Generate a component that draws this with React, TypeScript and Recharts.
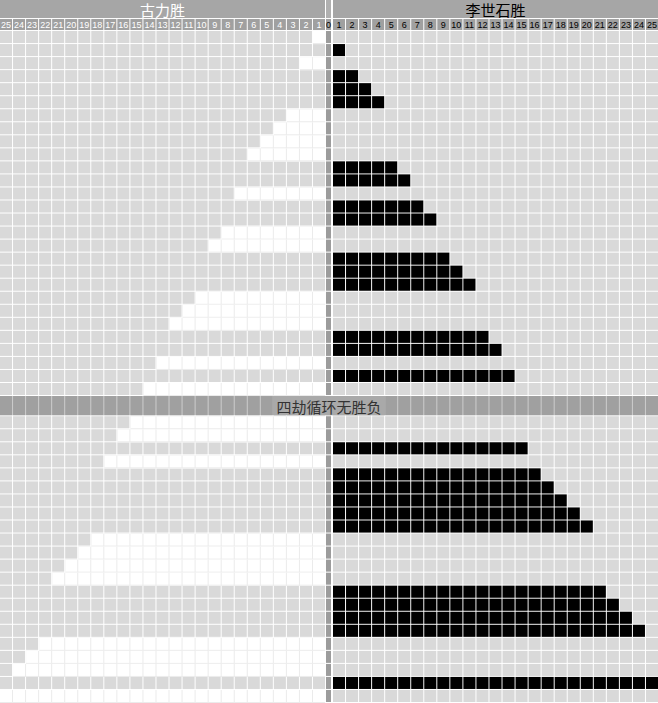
import React from "react";
import { ComposedChart, XAxis, YAxis, ReferenceArea } from "recharts";

const leftTitle = "古力胜";
const rightTitle = "李世石胜";
const bandTitle = "四劫循环无胜负";

// winner of each game, in order ("古" = 古力, "李" = 李世石)
const gamesBeforeBand = [
  "古", "李", "古", "李", "李", "李", "古", "古", "古", "古",
  "李", "李", "古", "李", "李", "古", "古", "李", "李", "李",
  "古", "古", "古", "李", "李", "古", "李", "古",
];
const gamesAfterBand = [
  "古", "古", "李", "古", "李", "李", "李", "李", "李", "古",
  "古", "古", "古", "李", "李", "李", "李", "古", "古", "古",
  "李", "古",
];

const leftTicks = [25, 24, 23, 22, 21, 20, 19, 18, 17, 16, 15, 14, 13, 12, 11, 10, 9, 8, 7, 6, 5, 4, 3, 2, 1];
const centerTick = 0;
const rightTicks = [1, 2, 3, 4, 5, 6, 7, 8, 9, 10, 11, 12, 13, 14, 15, 16, 17, 18, 19, 20, 21, 22, 23, 24, 25];

// layout (in cell units)
const MID = 0.46;
const TOP = -2.38;
const NUM_TOP = -0.92;
const BAND_H = 1.55;
const BAND_Y = gamesBeforeBand.length;
const END = gamesBeforeBand.length + BAND_H + gamesAfterBand.length;
const SIDE = leftTicks.length;

const BODY = "#d9d9d9";
const HEAD = "#a6a6a6";
const NUMS = "#a0a0a0";
const CENTER = "#9c9c9c";

type Row = { winner: string; count: number; y1: number; y2: number };

const rows: Row[] = [];
let gu = 0;
let lee = 0;
const addRow = (w: string, y1: number) => {
  if (w === "古") gu += 1;
  else lee += 1;
  rows.push({ winner: w, count: w === "古" ? gu : lee, y1, y2: y1 + 1 });
};
gamesBeforeBand.forEach((w, i) => addRow(w, i));
gamesAfterBand.forEach((w, j) => addRow(w, BAND_Y + BAND_H + j));

const cellShape = (n: number, side: "left" | "right", fill: string, gapFill?: string) => (p: any) => {
  const w = p.width / n;
  const out = [];
  for (let i = 0; i < n; i++) {
    out.push(
      <rect
        key={i}
        x={p.x + i * w + (side === "right" ? 1 : 0)}
        y={p.y}
        width={w - 1}
        height={p.height - 1}
        fill={fill}
      />
    );
  }
  return (
    <g>
      {gapFill && <rect x={p.x} y={p.y} width={p.width} height={p.height - 1} fill={gapFill} />}
      {out}
    </g>
  );
};

const guBar = (n: number) => (p: any) => {
  const w = p.width / n;
  const lines = [];
  for (let i = 1; i < n; i++) {
    lines.push(<rect key={i} x={p.x + i * w - 1} y={p.y} width={1} height={p.height} fill="#ebebeb" />);
  }
  return (
    <g>
      <rect x={p.x} y={p.y} width={p.width - 1} height={p.height} fill="#ffffff" />
      <rect x={p.x} y={p.y + p.height - 1} width={p.width - 1} height={1} fill="#ebebeb" />
      {lines}
    </g>
  );
};

const boxShape = (fill: string, side: "left" | "right" | "mid", text?: string, color?: string, size?: number, family?: string) => (p: any) => {
  const dx = side === "right" ? 1 : 0;
  return (
    <g>
      <rect x={p.x + dx} y={p.y} width={p.width - 1} height={p.height - 1} fill={fill} />
      {text !== undefined && (
        <text
          x={p.x + dx + (p.width - 1) / 2}
          y={p.y + (p.height - 1) / 2}
          textAnchor="middle"
          dominantBaseline="central"
          fill={color}
          fontSize={size}
          fontFamily={family}
        >
          {text}
        </text>
      )}
    </g>
  );
};

const bandLabel = (p: any) => {
  const cx = p.x + p.width / 2;
  return (
    <g>
      <rect x={cx - 56} y={p.y} width={112} height={p.height - 1} fill="#a9a9a9" />
      <text
        x={cx}
        y={p.y + (p.height - 1) / 2 + 1}
        textAnchor="middle"
        dominantBaseline="central"
        fill="#333333"
        fontSize={15}
        fontFamily="'Noto Sans CJK SC', sans-serif"
      >
        {bandTitle}
      </text>
    </g>
  );
};

const CJK = "'Noto Sans CJK SC', sans-serif";
const NUM_FONT = "'Liberation Sans', Arial, sans-serif";

export default function App() {
  return (
    <div style={{ position: "fixed", left: 0, top: 0, background: "#fff" }}>
      <ComposedChart width={658} height={703} data={rows} margin={{ top: 0, right: 0, bottom: 0, left: 0 }}>
        <XAxis type="number" dataKey="count" domain={[-SIDE, SIDE + MID]} allowDataOverflow hide />
        <YAxis type="number" dataKey="y1" domain={[TOP, END]} allowDataOverflow reversed hide />

        {/* title row */}
        <ReferenceArea x1={-SIDE} x2={0} y1={TOP} y2={NUM_TOP} ifOverflow="visible"
          shape={boxShape(HEAD, "left", leftTitle, "#ffffff", 15, CJK)} />
        <ReferenceArea x1={0} x2={MID} y1={TOP} y2={NUM_TOP} ifOverflow="visible"
          shape={boxShape("#b0b0b0", "mid")} />
        <ReferenceArea x1={MID} x2={SIDE + MID} y1={TOP} y2={NUM_TOP} ifOverflow="visible"
          shape={boxShape(HEAD, "right", rightTitle, "#000000", 15, CJK)} />

        {/* number row */}
        {leftTicks.map((t) => (
          <ReferenceArea key={"l" + t} x1={-t} x2={-t + 1} y1={NUM_TOP} y2={0} ifOverflow="visible"
            shape={boxShape(NUMS, "left", String(t), "#ffffff", 9, NUM_FONT)} />
        ))}
        <ReferenceArea x1={0} x2={MID} y1={NUM_TOP} y2={0} ifOverflow="visible"
          shape={boxShape(NUMS, "mid", String(centerTick), "#000000", 9, NUM_FONT)} />
        {rightTicks.map((t) => (
          <ReferenceArea key={"r" + t} x1={MID + t - 1} x2={MID + t} y1={NUM_TOP} y2={0} ifOverflow="visible"
            shape={boxShape(NUMS, "right", String(t), "#000000", 9, NUM_FONT)} />
        ))}

        {/* game rows */}
        {rows.map((r, i) => (
          <ReferenceArea key={"bl" + i} x1={-SIDE} x2={0} y1={r.y1} y2={r.y2} ifOverflow="visible"
            shape={cellShape(SIDE, "left", BODY)} />
        ))}
        {rows.map((r, i) => (
          <ReferenceArea key={"bc" + i} x1={0} x2={MID} y1={r.y1} y2={r.y2} ifOverflow="visible"
            shape={boxShape(CENTER, "mid")} />
        ))}
        {rows.map((r, i) => (
          <ReferenceArea key={"br" + i} x1={MID} x2={SIDE + MID} y1={r.y1} y2={r.y2} ifOverflow="visible"
            shape={cellShape(SIDE, "right", BODY)} />
        ))}
        {rows.map((r, i) =>
          r.winner === "古" ? (
            <ReferenceArea key={"g" + i} x1={-r.count} x2={0} y1={r.y1} y2={r.y2} ifOverflow="visible"
              shape={guBar(r.count)} />
          ) : (
            <ReferenceArea key={"s" + i} x1={MID} x2={MID + r.count} y1={r.y1} y2={r.y2} ifOverflow="visible"
              shape={cellShape(r.count, "right", "#000000")} />
          )
        )}

        {/* no-result band */}
        <ReferenceArea x1={-SIDE} x2={0} y1={BAND_Y} y2={BAND_Y + BAND_H} ifOverflow="visible"
          shape={cellShape(SIDE, "left", NUMS, "#cdcdcd")} />
        <ReferenceArea x1={0} x2={MID} y1={BAND_Y} y2={BAND_Y + BAND_H} ifOverflow="visible"
          shape={boxShape("#959595", "mid")} />
        <ReferenceArea x1={MID} x2={SIDE + MID} y1={BAND_Y} y2={BAND_Y + BAND_H} ifOverflow="visible"
          shape={cellShape(SIDE, "right", NUMS, "#cdcdcd")} />
        <ReferenceArea x1={-SIDE} x2={SIDE + MID} y1={BAND_Y} y2={BAND_Y + BAND_H} ifOverflow="visible"
          shape={bandLabel} />
      </ComposedChart>
    </div>
  );
}
